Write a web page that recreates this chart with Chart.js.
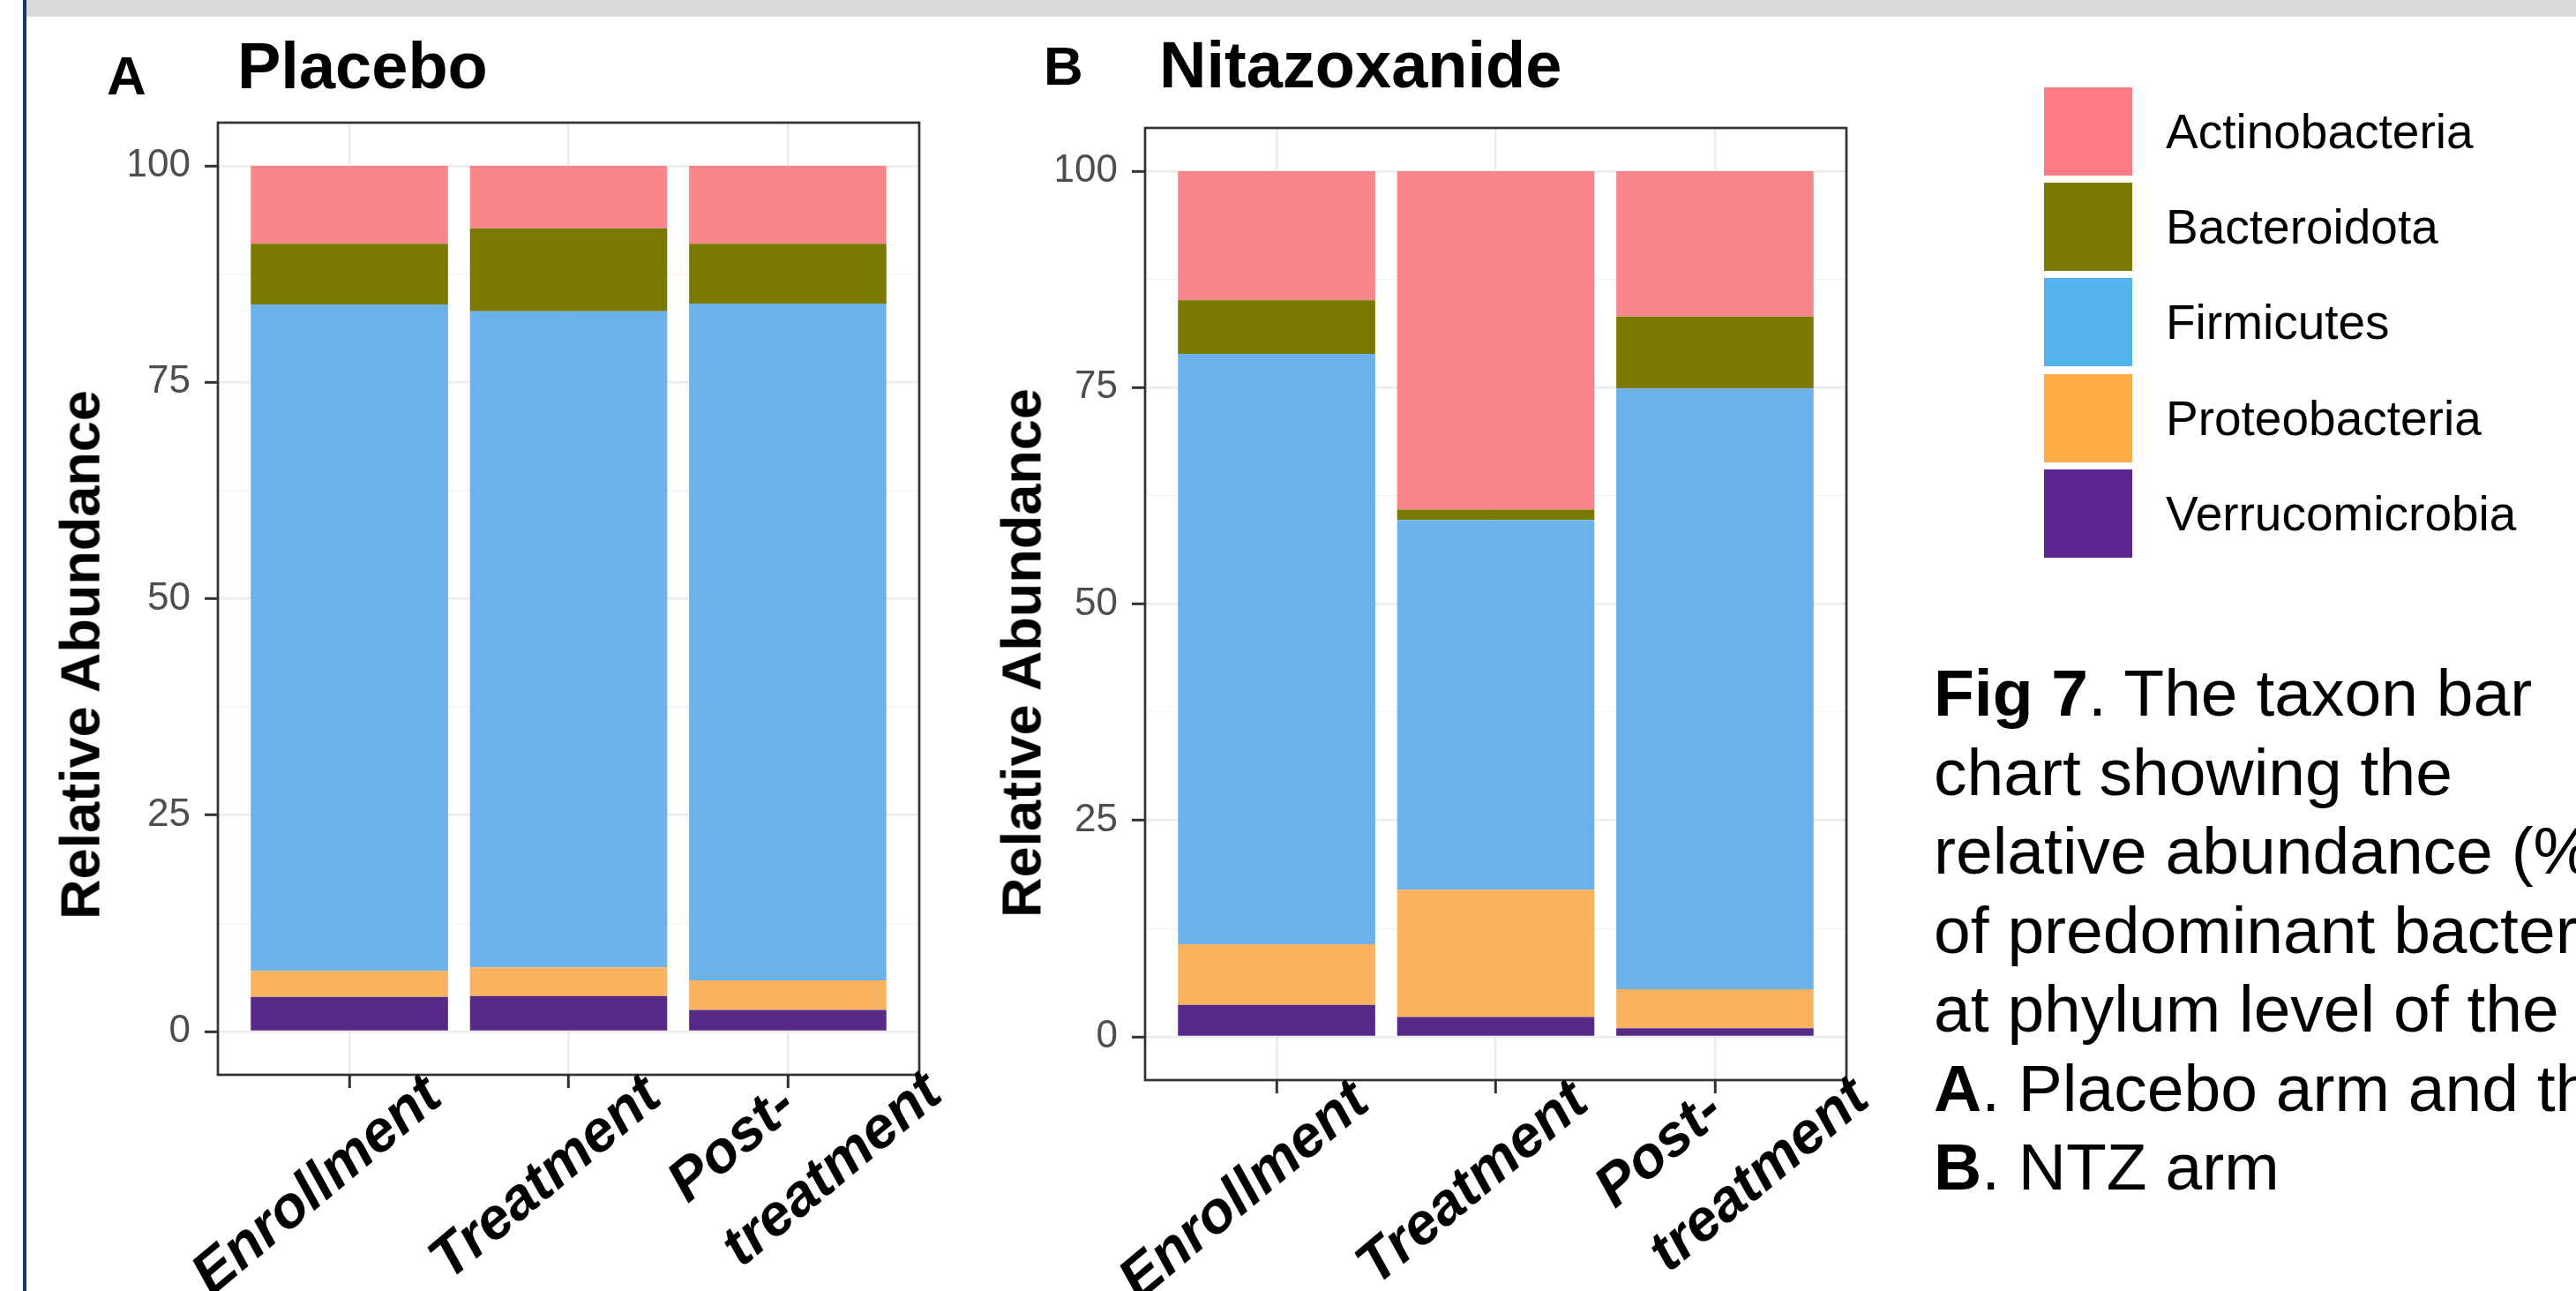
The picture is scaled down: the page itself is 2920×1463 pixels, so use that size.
<!DOCTYPE html>
<html>
<head>
<meta charset="utf-8">
<script src="https://cdn.jsdelivr.net/npm/chart.js"></script>
<style>
  html, body { margin: 0; padding: 0; }
  body { width: 2920px; height: 1463px; overflow: hidden; position: relative; background: #fff; font-family: "Liberation Sans", Arial, sans-serif; }
  .band { position: absolute; left: 30px; top: 0; width: 2890px; height: 19px; background: #d9d9d9; }
  .edge { position: absolute; left: 26px; top: 0; width: 4px; height: 1463px; background: #1c3570; }
  canvas { position: absolute; top: 0; }
  #chartA { left: 0; }
  #chartB { left: 1110px; }
  .t { position: absolute; font-weight: bold; color: #000; white-space: nowrap; line-height: 1; }
  .ytitle { position: absolute; font-weight: bold; font-size: 63px; line-height: 1; white-space: nowrap; transform: translate(-50%, -50%) rotate(-90deg); }
  .key { position: absolute; left: 2317px; width: 100px; height: 100px; }
  .keytxt { position: absolute; left: 2455px; font-size: 55px; line-height: 1; white-space: nowrap; }
  .caption { position: absolute; left: 2192px; top: 741px; font-size: 75px; line-height: 89.5px; white-space: nowrap; }
</style>
</head>
<body>
<div class="band"></div>
<div class="edge"></div>
<canvas id="chartA" width="1110" height="1463"></canvas>
<canvas id="chartB" width="1110" height="1463"></canvas>

<div class="t" style="left:121px; top:55px; font-size:62px;">A</div>
<div class="t" style="left:269px; top:38px; font-size:74px;">Placebo</div>
<div class="t" style="left:1183px; top:44px; font-size:62px;">B</div>
<div class="t" style="left:1314px; top:37px; font-size:74px;">Nitazoxanide</div>
<div class="ytitle" style="left:91px; top:742px;">Relative Abundance</div>
<div class="ytitle" style="left:1158px; top:740px;">Relative Abundance</div>
<div id="legend"></div>
<div class="caption"><b>Fig 7</b>. The taxon bar<br>chart showing the<br>relative abundance (%)<br>of predominant bacteria<br>at phylum level of the<br><b>A</b>. Placebo arm and the<br><b>B</b>. NTZ arm</div>

<script>
const categories = ['Enrollment', 'Treatment', 'Post-\ntreatment'];
const phyla = ['Actinobacteria', 'Bacteroidota', 'Firmicutes', 'Proteobacteria', 'Verrucomicrobia'];
const yTicks = [0, 12.5, 25, 37.5, 50, 62.5, 75, 87.5, 100];

// placebo arm, % per visit
const placeboActino = [9.0, 7.2, 9.0];
const placeboBactero = [7.0, 9.6, 6.9];
const placeboFirmi = [77.0, 75.8, 78.2];
const placeboProteo = [3.0, 3.3, 3.4];
const placeboVerruco = [4.0, 4.1, 2.5];

// nitazoxanide arm
const ntzActino = [14.9, 39.1, 16.8];
const ntzBactero = [6.2, 1.2, 8.3];
const ntzFirmi = [68.2, 42.7, 69.4];
const ntzProteo = [7.0, 14.7, 4.5];
const ntzVerruco = [3.7, 2.3, 1.0];

const barColors = ['#f8868a', '#7a7a03', '#6db1ea', '#f9b35f', '#572a88'];
const keyColors = ['#ff7b85', '#7a7a00', '#52b3ee', '#ffab45', '#5e2590'];
// where the end of each rotated x label sits, relative to its tick and the panel bottom
const labelShift = [[108, 30], [108, 30], [178, 26]];
const labelAngle = -40 * Math.PI / 180;

let legend = document.getElementById('legend');
phyla.forEach((name, i) => {
  let top = 99 + i * 108.2;
  legend.innerHTML += '<div class="key" style="top:' + top + 'px;background:' + keyColors[i] + '"></div>' +
    '<div class="keytxt" style="top:' + (top + 50 - 27) + 'px">' + name + '</div>';
});

const framePlugin = {
  id: 'frame',
  afterDraw(chart) {
    const {ctx, chartArea: a} = chart;
    ctx.save();
    ctx.strokeStyle = '#333333';
    ctx.lineWidth = 2.7;
    ctx.strokeRect(a.left, a.top, a.right - a.left, a.bottom - a.top);
    ctx.restore();
  }
};

const xLabelPlugin = {
  id: 'xLabels',
  afterDraw(chart) {
    const {ctx, scales: {x}} = chart;
    ctx.save();
    ctx.font = 'italic bold 66px "Liberation Sans"';
    ctx.fillStyle = '#000';
    categories.forEach((name, i) => {
      const lines = name.split('\n');
      const w = Math.max(...lines.map(l => ctx.measureText(l).width));
      ctx.save();
      ctx.translate(x.getPixelForValue(i + 1) + labelShift[i][0], chart.chartArea.bottom + labelShift[i][1]);
      ctx.rotate(labelAngle);
      lines.forEach((l, j) => ctx.fillText(l, -w, (j - lines.length + 1) * 95));
      ctx.restore();
    });
    ctx.restore();
  }
};

const minor = c => c.tick && c.tick.value % 25 !== 0;

function drawArm(id, values, pad) {
  new Chart(document.getElementById(id), {
    type: 'bar',
    data: {
      datasets: phyla.map((name, k) => ({
        label: name,
        data: values[k].map((v, i) => ({x: i + 1, y: v})),
        backgroundColor: barColors[k],
        borderWidth: 0,
        barPercentage: 0.9,
        categoryPercentage: 1
      })).reverse()
    },
    options: {
      responsive: false,
      animation: false,
      devicePixelRatio: 1,
      layout: { padding: pad },
      plugins: { legend: { display: false }, tooltip: { enabled: false } },
      scales: {
        x: {
          type: 'linear', min: 0.4, max: 3.6, stacked: true, offset: false,
          afterBuildTicks: s => { s.ticks = categories.map((c, i) => ({value: i + 1})); },
          afterFit: s => { s.height = 20; },
          ticks: { display: false },
          grid: { offset: false, color: '#ebebeb', lineWidth: 2.6, tickColor: '#333', tickWidth: 3, tickLength: 15 },
          border: { display: false }
        },
        y: {
          type: 'linear', min: -5, max: 105, stacked: true,
          afterBuildTicks: s => { s.ticks = yTicks.map(v => ({value: v})); },
          afterFit: s => { s.width = 100; },
          ticks: {
            callback: v => v % 25 === 0 ? v : '',
            color: '#4d4d4d',
            font: { family: '"Liberation Sans"', size: 44 },
            padding: 16
          },
          grid: {
            color: c => minor(c) ? '#f2f2f2' : '#ebebeb',
            lineWidth: c => minor(c) ? 1.3 : 2.6,
            tickColor: c => minor(c) ? 'rgba(0,0,0,0)' : '#333',
            tickWidth: 3,
            tickLength: 15
          },
          border: { display: false }
        }
      }
    },
    plugins: [framePlugin, xLabelPlugin]
  });
}

drawArm('chartA', [placeboActino, placeboBactero, placeboFirmi, placeboProteo, placeboVerruco],
  { left: 147, right: 68, top: 139, bottom: 225 });
drawArm('chartB', [ntzActino, ntzBactero, ntzFirmi, ntzProteo, ntzVerruco],
  { left: 88, right: 127, top: 145, bottom: 219 });
</script>
</body>
</html>
